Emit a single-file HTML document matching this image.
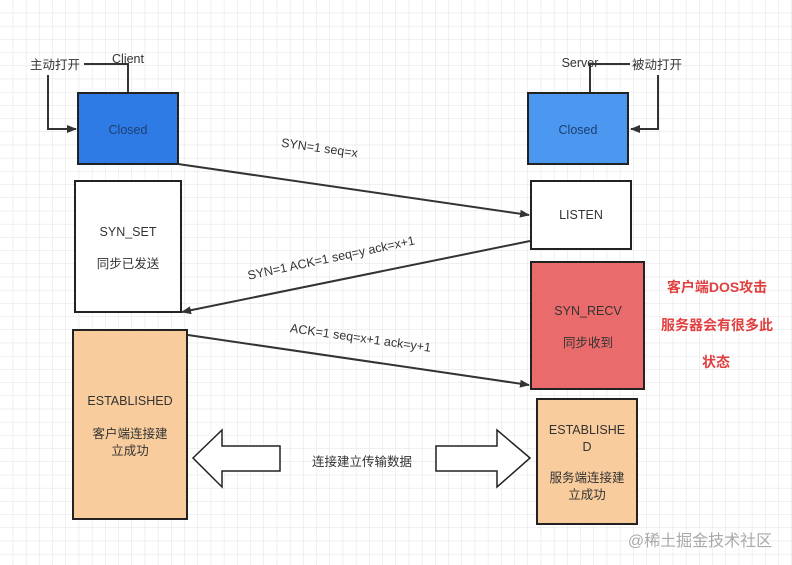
<!DOCTYPE html>
<html><head><meta charset="utf-8"><style>
body{margin:0;width:792px;height:565px;overflow:hidden;background:#fff;}
svg{display:block}
text{font-family:"Liberation Sans","Noto Sans CJK SC",sans-serif;}
</style></head><body>
<svg width="792" height="565" viewBox="0 0 792 565" xmlns="http://www.w3.org/2000/svg">
<defs>
<pattern id="g" width="13.2" height="13.2" patternUnits="userSpaceOnUse">
<path d="M13.2 0V13.2H0" fill="none" stroke="#e2e2e2" stroke-width="1"/>
</pattern>
<marker id="a" markerWidth="10" markerHeight="8" refX="9" refY="4" orient="auto" markerUnits="userSpaceOnUse">
<path d="M0 0L10 4L0 8z" fill="#333"/>
</marker>
</defs>
<rect width="792" height="565" fill="url(#g)"/>
<g stroke="#333" stroke-width="2" fill="none">
<polyline points="84,64 128,64 128,93"/>
<polyline points="48,75 48,129 76,129" marker-end="url(#a)"/>
<polyline points="590,93 590,64 630,64"/>
<polyline points="658,75 658,129 631,129" marker-end="url(#a)"/>
<line x1="178" y1="164" x2="529" y2="215" marker-end="url(#a)"/>
<line x1="530" y1="241" x2="182" y2="312" marker-end="url(#a)"/>
<line x1="188" y1="335" x2="529" y2="385" marker-end="url(#a)"/>
</g>
<g stroke="#222" stroke-width="2">
<rect x="78" y="93" width="100" height="71" fill="#2f7be6"/>
<rect x="75" y="181" width="106" height="131" fill="#fff"/>
<rect x="73" y="330" width="114" height="189" fill="#f8cc9c"/>
<rect x="528" y="93" width="100" height="71" fill="#4c97ef"/>
<rect x="531" y="181" width="100" height="68" fill="#fff"/>
<rect x="531" y="262" width="113" height="127" fill="#ea6b6b"/>
<rect x="537" y="399" width="100" height="125" fill="#f8cc9c"/>
</g>
<g stroke="#222" stroke-width="1.5" fill="#fff">
<polygon points="193,458 222,430 222,446 280,446 280,471 222,471 222,487"/>
<polygon points="530,458 497,430 497,446 436,446 436,471 497,471 497,487"/>
</g>
<g font-size="12.5" fill="#333" text-anchor="middle">
<text x="55" y="69">主动打开</text>
<text x="128" y="63">Client</text>
<text x="580" y="67">Server</text>
<text x="657" y="69">被动打开</text>
<text x="128" y="134" fill="#1d3f70">Closed</text>
<text x="578" y="134" fill="#1d3f70">Closed</text>
<text x="128" y="236">SYN_SET</text>
<text x="128" y="268">同步已发送</text>
<text x="581" y="219">LISTEN</text>
<text x="588" y="315">SYN_RECV</text>
<text x="588" y="347">同步收到</text>
<text x="130" y="405">ESTABLISHED</text>
<text x="130" y="438">客户端连接建</text>
<text x="130" y="455">立成功</text>
<text x="587" y="434">ESTABLISHE</text>
<text x="587" y="451">D</text>
<text x="587" y="482">服务端连接建</text>
<text x="587" y="499">立成功</text>
<text x="362" y="466">连接建立传输数据</text>
<text x="319" y="152" transform="rotate(8 319 152)">SYN=1  seq=x</text>
<text x="332" y="262" transform="rotate(-12 332 262)">SYN=1 ACK=1 seq=y ack=x+1</text>
<text x="360" y="342" transform="rotate(8 360 342)">ACK=1 seq=x+1 ack=y+1</text>
</g>
<g font-size="14" font-weight="bold" fill="#e0403f" text-anchor="middle">
<text x="717" y="292">客户端DOS攻击</text>
<text x="717" y="330">服务器会有很多此</text>
<text x="716" y="367">状态</text>
</g>
<text x="700" y="546" font-size="16" fill="#aaa" text-anchor="middle">@稀土掘金技术社区</text>
</svg>
</body></html>
